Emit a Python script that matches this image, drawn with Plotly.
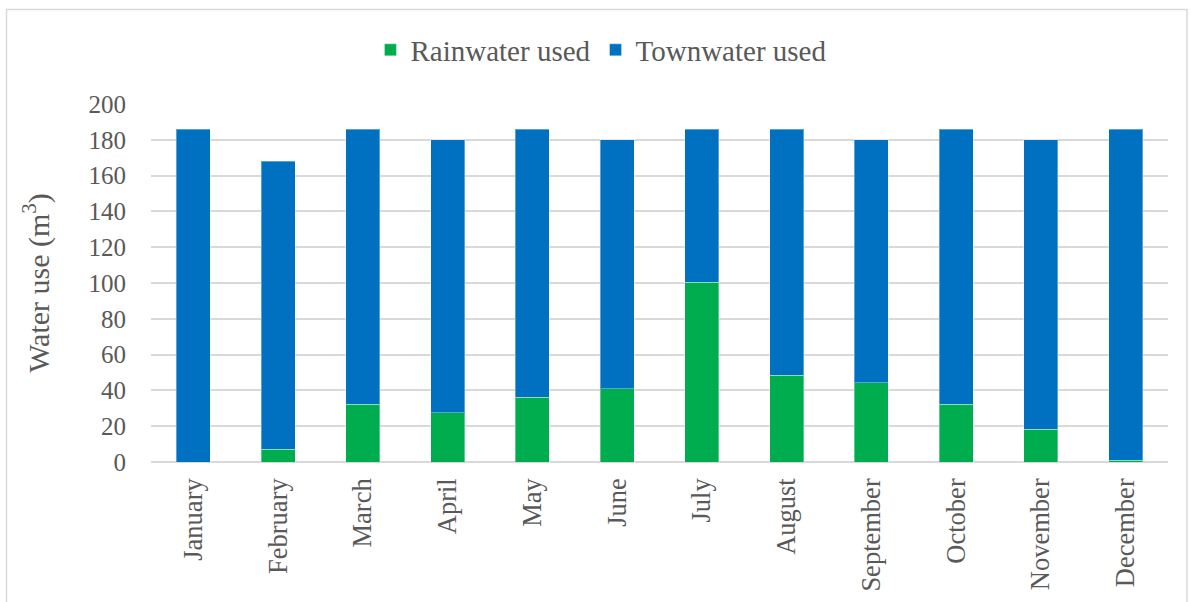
import plotly.graph_objects as go

# Monthly water use (m³)
months = ["January", "February", "March", "April", "May", "June",
          "July", "August", "September", "October", "November", "December"]
total_use = [186, 168, 186, 180, 186, 180, 186, 186, 180, 186, 180, 186]
rainwater_used = [0, 7, 32.4, 27.5, 36.3, 41, 100.3, 48.4, 44.3, 32.4, 18.4, 1]
townwater_used = [round(t - r, 1) for t, r in zip(total_use, rainwater_used)]

y_ticks = list(range(0, 201, 20))

W, H = 1191, 602
ML, MR, MT, MB = 151, 23, 104, 140
PW, PH = W - ML - MR, H - MT - MB

FONT = "Times New Roman, Liberation Serif, DejaVu Serif, serif"
TXT = "#595959"
GRID = "#d9d9d9"

fig = go.Figure()
fig.add_trace(go.Bar(
    x=months, y=rainwater_used, name="Rainwater used",
    marker=dict(color="#00ad4e", line=dict(color="rgba(255,255,255,0.35)", width=1)),
))
fig.add_trace(go.Bar(
    x=months, y=townwater_used, name="Townwater used",
    marker=dict(color="#0070c0", line=dict(color="rgba(255,255,255,0.35)", width=1)),
))


def px_to_paper_x(px):
    return (px - ML) / PW


def px_to_paper_y(py):
    return (H - MB - py) / PH


# chart-area border
fig.add_shape(
    type="rect", xref="paper", yref="paper",
    x0=px_to_paper_x(6.5), x1=px_to_paper_x(1187),
    y0=px_to_paper_y(620), y1=px_to_paper_y(9.5),
    line=dict(color=GRID, width=1.5), fillcolor="rgba(0,0,0,0)", layer="below",
)

fig.update_layout(
    width=W, height=H,
    margin=dict(l=ML, r=MR, t=MT, b=MB, autoexpand=False),
    paper_bgcolor="white", plot_bgcolor="white",
    barmode="stack", bargap=0.6,
    font=dict(family=FONT, color=TXT),
    showlegend=True,
    legend=dict(
        orientation="h", xref="container", yref="container",
        x=0.505, xanchor="center", y=1 - 50 / H, yanchor="middle",
        font=dict(size=29, family=FONT, color=TXT),
        traceorder="normal", itemwidth=30,
    ),
    xaxis=dict(
        tickangle=-90, tickfont=dict(size=26.5, family=FONT, color=TXT),
        showgrid=False, showline=False, ticks="", ticklen=0,
        ticklabelstandoff=10, automargin=False,
    ),
    yaxis=dict(
        range=[0, 200], tickvals=y_ticks, ticktext=[str(v) for v in y_ticks],
        tickfont=dict(size=25, family=FONT, color=TXT),
        showgrid=True, gridcolor=GRID, gridwidth=1.5,
        zeroline=True, zerolinecolor=GRID, zerolinewidth=1.5,
        showline=False, ticks="", ticklabelstandoff=24, automargin=False,
        title=dict(text="Water use (m<sup>3</sup>)", font=dict(size=30, family=FONT, color=TXT), standoff=30),
    ),
)

fig.write_html("out.html")
